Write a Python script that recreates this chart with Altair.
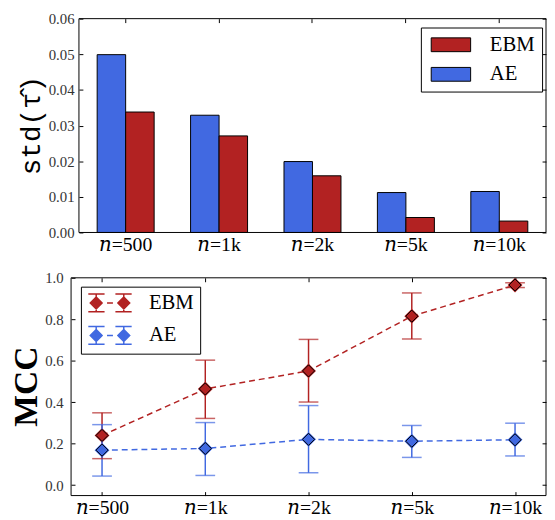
import altair as alt
import pandas as pd

# ---- data ----
cats = ["𝑛=500", "𝑛=1k", "𝑛=2k", "𝑛=5k", "𝑛=10k"]
models = ["EBM", "AE"]
colors = ["#b22222", "#4169e1"]

ae_std = [0.0499, 0.0329, 0.0199, 0.0112, 0.0115]
ebm_std = [0.0338, 0.0271, 0.0159, 0.0042, 0.0032]

ebm_mcc = [0.240, 0.464, 0.551, 0.815, 0.965]
ebm_lo = [0.128, 0.322, 0.401, 0.705, 0.953]
ebm_hi = [0.349, 0.603, 0.703, 0.927, 0.976]
ae_mcc = [0.169, 0.177, 0.221, 0.212, 0.219]
ae_lo = [0.044, 0.047, 0.060, 0.134, 0.141]
ae_hi = [0.292, 0.302, 0.384, 0.288, 0.299]

std_ticks = [0.0, 0.01, 0.02, 0.03, 0.04, 0.05, 0.06]
mcc_ticks = [0.0, 0.2, 0.4, 0.6, 0.8, 1.0]

bar_df = pd.DataFrame({
    "cat": cats * 2,
    "model": ["AE"] * 5 + ["EBM"] * 5,
    "value": ae_std + ebm_std,
})
mcc_df = pd.DataFrame({
    "cat": cats * 2,
    "model": ["EBM"] * 5 + ["AE"] * 5,
    "mcc": ebm_mcc + ae_mcc,
    "lo": ebm_lo + ae_lo,
    "hi": ebm_hi + ae_hi,
})

SERIF = "Liberation Serif"
LABEL_FONT = "Liberation Serif, DejaVu Serif"
W = 482
H_TOP = 217
H_BOT = 221
L_OFF = 8
LEFT = 64      # room left of the plot for labels and titles
GAP_TOP = 30   # room below the top plot for its tick labels
GAP_BOT = 10   # room above the bottom plot

cscale = alt.Scale(domain=models, range=colors)
one = alt.Data(values=[{}])

# ---------------- top panel ----------------
xs_top = alt.Scale(domain=cats, range=[L_OFF, W], paddingInner=0.39, paddingOuter=0.195)
ys_top = alt.Scale(domain=[0, 0.06], nice=False, zero=False)

# 40x14 swatch drawn from a 14px symbol box
legend_top = alt.Legend(
    title=None, orient="none", legendX=355, legendY=9,
    symbolType="M-1,-1H4.714V1H-1Z", symbolSize=196,
    symbolStrokeColor="black", symbolStrokeWidth=1,
    labelFont=SERIF, labelFontSize=21, labelColor="black", labelOffset=42,
    rowPadding=8, padding=7, strokeColor="black", fillColor="white", cornerRadius=0,
)

bars = alt.Chart(bar_df).mark_bar(stroke="black", strokeWidth=1).encode(
    x=alt.X("cat:N", sort=cats, scale=xs_top, axis=alt.Axis(
        orient="bottom", offset=-4, tickSize=4, domain=False, grid=False,
        labelFont=LABEL_FONT, labelFontSize=20, labelColor="black", labelPadding=2,
        labelAngle=0, tickColor="black", title=None)),
    xOffset=alt.XOffset("model:N", sort=["AE", "EBM"], scale=alt.Scale(domain=["AE", "EBM"])),
    y=alt.Y("value:Q", scale=ys_top, axis=alt.Axis(
        orient="left", offset=-(L_OFF + 4), tickSize=4, domain=False, grid=False,
        values=std_ticks, format=".2f", labelFont=SERIF, labelFontSize=15,
        labelColor="#333", labelPadding=5, tickColor="black", title=None)),
    color=alt.Color("model:N", scale=cscale, legend=legend_top),
)

ghost_top = alt.Chart(bar_df).mark_point(opacity=0).encode(
    x=alt.X("cat:N", sort=cats, scale=xs_top, axis=alt.Axis(
        orient="top", offset=-4, tickSize=4, domain=False, labels=False,
        grid=False, tickColor="black", title=None)),
    y=alt.Y("value:Q", scale=ys_top, axis=alt.Axis(
        orient="right", offset=-4, tickSize=4, domain=False, labels=False,
        grid=False, values=std_ticks, tickColor="black", title=None)),
)

frame_top = alt.Chart(one).mark_rect(
    filled=False, stroke="black", strokeWidth=1).encode(
    x=alt.value(L_OFF), x2=alt.value(W), y=alt.value(0), y2=alt.value(H_TOP))

title_top = alt.Chart(one).mark_text(
    text="std(τ̂)", angle=270, font="Liberation Mono", fontSize=28,
    color="black", align="center", baseline="middle").encode(
    x=alt.value(-40), y=alt.value(H_TOP / 2))

# invisible marker fixing the lower extent of the top panel
edge_top = alt.Chart(one).mark_rule(opacity=0, strokeWidth=0).encode(
    x=alt.value(100), y=alt.value(H_TOP), y2=alt.value(H_TOP + GAP_TOP))

top = alt.layer(bars, ghost_top, frame_top, title_top, edge_top).resolve_axis(
    x="independent", y="independent").properties(width=W, height=H_TOP)

# ---------------- bottom panel ----------------
xs_bot = alt.Scale(type="point", domain=cats, padding=0.3)
ys_bot = alt.Scale(domain=[-0.05, 1.0], nice=False, zero=False)

# errorbar - diamond - dash - diamond - errorbar glyph, 44x18 px, from an 18px symbol box
leg_path = ("M-1,-1H0.833M-0.111,-1V1M-1,1H0.833"
            "M-0.111,-0.667L0.556,0L-0.111,0.667L-0.778,0Z"
            "M1.111,0H1.778"
            "M2.056,-1H3.889M3,-1V1M2.056,1H3.889"
            "M3,-0.667L3.667,0L3,0.667L2.333,0Z")

legend_bot = alt.Legend(
    title=None, orient="none", legendX=10, legendY=9,
    symbolType=leg_path, symbolSize=324, symbolStrokeWidth=1.5,
    labelFont=SERIF, labelFontSize=21, labelColor="black", labelOffset=42,
    rowPadding=8, padding=6, strokeColor="black", fillColor="white", cornerRadius=0,
)

xb = alt.X("cat:N", sort=cats, scale=xs_bot, axis=alt.Axis(
    orient="bottom", offset=-4, tickSize=4, domain=False, grid=False,
    labelFont=LABEL_FONT, labelFontSize=20, labelColor="black", labelPadding=2,
    labelAngle=0, tickColor="black", title=None))
yb_axis = alt.Axis(
    orient="left", offset=-4, tickSize=4, domain=False, grid=False,
    values=mcc_ticks, format=".1f", labelFont=SERIF, labelFontSize=15,
    labelColor="#333", labelPadding=8, tickColor="black", title=None)

base = alt.Chart(mcc_df)
col_nolegend = alt.Color("model:N", scale=cscale, legend=None)
xn = alt.X("cat:N", sort=cats, axis=None)

# first layer carries the legend (filled diamonds, coloured stroke)
pts_legend = base.mark_point(shape="diamond", filled=True, size=150, opacity=1).encode(
    x=xb, y=alt.Y("mcc:Q", scale=ys_bot, axis=yb_axis),
    color=alt.Color("model:N", scale=cscale, legend=legend_bot),
    stroke=alt.Stroke("model:N", scale=cscale, legend=legend_bot))
lines = base.mark_line(strokeDash=[6, 4], strokeWidth=1.5).encode(
    x=xn, y=alt.Y("mcc:Q", axis=None), color=col_nolegend)
rules = base.mark_rule(strokeWidth=1.5).encode(
    x=xn, y=alt.Y("lo:Q", axis=None), y2="hi:Q", color=col_nolegend)
cap_lo = base.mark_tick(thickness=1.5, size=20, orient="horizontal").encode(
    x=xn, y=alt.Y("lo:Q", axis=None), color=col_nolegend)
cap_hi = base.mark_tick(thickness=1.5, size=20, orient="horizontal").encode(
    x=xn, y=alt.Y("hi:Q", axis=None), color=col_nolegend)
pts = base.mark_point(shape="diamond", filled=True, size=150, opacity=1).encode(
    x=xn, y=alt.Y("mcc:Q", axis=None), color=col_nolegend)
pts_outline = base.mark_point(shape="diamond", filled=False, size=150,
                              stroke="black", strokeWidth=1, opacity=1).encode(
    x=xn, y=alt.Y("mcc:Q", axis=None))
ghost_bot = base.mark_point(opacity=0).encode(
    x=alt.X("cat:N", sort=cats, scale=xs_bot, axis=alt.Axis(
        orient="top", offset=-4, tickSize=4, domain=False, labels=False,
        grid=False, tickColor="black", title=None)),
    y=alt.Y("mcc:Q", scale=ys_bot, axis=alt.Axis(
        orient="right", offset=-4, tickSize=4, domain=False, labels=False,
        grid=False, values=mcc_ticks, tickColor="black", title=None)),
)
frame_bot = alt.Chart(one).mark_rect(
    filled=False, stroke="black", strokeWidth=1).encode(
    x=alt.value(0), x2=alt.value(W), y=alt.value(0), y2=alt.value(H_BOT))

title_bot = alt.Chart(one).mark_text(
    text="MCC", angle=270, font=SERIF, fontSize=34, fontWeight="bold",
    color="black", align="center", baseline="middle").encode(
    x=alt.value(-45), y=alt.value(H_BOT / 2))

# invisible markers fixing the left and upper extent of the layout
edge = alt.Chart(one).mark_rule(opacity=0, strokeWidth=0).encode(
    x=alt.value(-LEFT), y=alt.value(-GAP_BOT), y2=alt.value(10))
edge2 = alt.Chart(one).mark_rule(opacity=0, strokeWidth=0).encode(
    x=alt.value(-LEFT), x2=alt.value(100), y=alt.value(-GAP_BOT))

bot = alt.layer(pts_legend, lines, rules, cap_lo, cap_hi, pts, pts_outline,
                ghost_bot, frame_bot, title_bot, edge, edge2).resolve_axis(
    x="independent", y="independent").properties(width=W, height=H_BOT)

chart = alt.vconcat(top, bot, spacing=6).resolve_scale(
    color="independent", stroke="independent").configure_view(stroke=None).properties(
    padding={"left": 0, "top": 0, "right": 0, "bottom": 0})

chart.save("out.html", embed_options={"renderer": "svg", "actions": False})
